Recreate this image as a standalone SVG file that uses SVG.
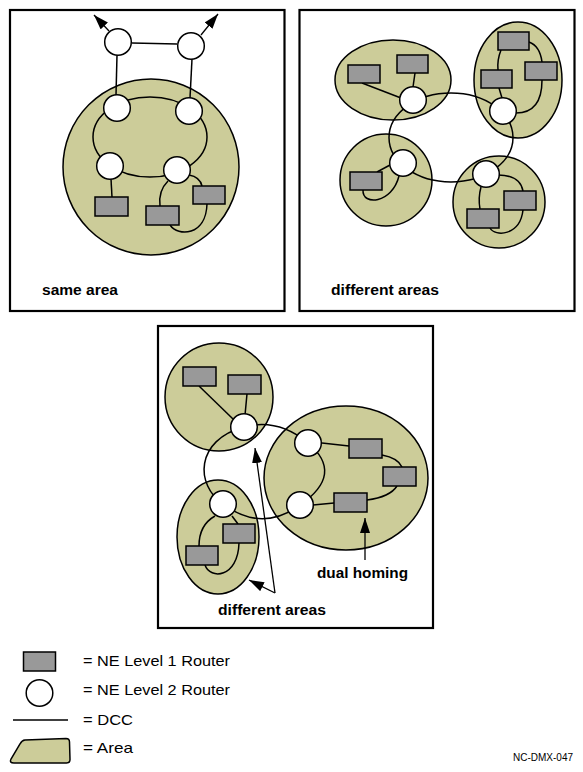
<svg xmlns="http://www.w3.org/2000/svg" width="583" height="772" viewBox="0 0 583 772">
<style>
.frame{fill:none;stroke:#000;stroke-width:2.2}
.area{fill:#CCCC99;stroke:#000;stroke-width:1.5}
.r2{fill:#fff;stroke:#000;stroke-width:1.5}
.r1{fill:#999;stroke:#000;stroke-width:1.5}
.dcc{fill:none;stroke:#000;stroke-width:1.5}
.arr{fill:none;stroke:#000;stroke-width:1.3;marker-end:url(#ah)}
.lbl{font-family:"Liberation Sans",Arial,sans-serif;font-weight:bold;font-size:14px;fill:#000}
.leg{font-family:"Liberation Sans",Arial,sans-serif;font-size:15px;fill:#000}
.code{font-family:"Liberation Sans",Arial,sans-serif;font-size:11px;fill:#000}
</style>
<defs>
<marker id="ah" viewBox="0 0 15 10" refX="15" refY="5" markerWidth="15" markerHeight="10" markerUnits="userSpaceOnUse" orient="auto">
<path d="M0,0 L15,5 L0,10 z" fill="#000"/>
</marker>
</defs>
<rect fill="#fff" width="583" height="772"/>

<!-- Frames -->
<g id="frames">
<rect class="frame" x="10" y="10" width="274.5" height="301"/>
<rect class="frame" x="299.5" y="10" width="275" height="301"/>
<rect class="frame" x="158" y="326" width="275" height="302"/>
</g>

<!-- Areas -->
<g id="areas">
<circle id="area-p1" class="area" cx="151" cy="167" r="88"/>
<ellipse id="area-p2-tl" class="area" cx="393" cy="80" rx="58" ry="40"/>
<ellipse id="area-p2-tr" class="area" cx="518" cy="80" rx="44" ry="58"/>
<circle id="area-p2-bl" class="area" cx="386" cy="180" r="46"/>
<circle id="area-p2-br" class="area" cx="499" cy="202" r="46"/>
<circle id="area-p3-tl" class="area" cx="219" cy="397" r="54"/>
<ellipse id="area-p3-r" class="area" cx="346" cy="478" rx="82" ry="72"/>
<ellipse id="area-p3-bl" class="area" cx="218" cy="537" rx="41" ry="57"/>
</g>

<!-- Connectors -->
<g id="connectors">
<!-- panel 1 -->
<path class="dcc" d="M132,43 L177,44"/>
<path class="dcc" d="M117,55 L116,95"/>
<path class="dcc" d="M192,59 L190,98"/>
<ellipse class="dcc" cx="150" cy="137" rx="57" ry="40"/>
<path class="dcc" d="M111,179 L112,197"/>
<path class="dcc" d="M168,181 C161,188 159,198 160,206"/>
<path class="dcc" d="M170,225 C178,237 206,236 207,204"/>
<path class="dcc" d="M189,175 Q200,177 202,186"/>
<path class="arr" d="M109,31 L94,15"/>
<path class="arr" d="M201,35 L218,14"/>
<!-- panel 2 -->
<ellipse class="dcc" cx="451" cy="137.5" rx="62" ry="44.5"/>
<path class="dcc" d="M362,83 L401,98"/>
<path class="dcc" d="M415,73 L413,87"/>
<path class="dcc" d="M501,50 Q497,60 498,70"/>
<path class="dcc" d="M499,88 L502,98"/>
<path class="dcc" d="M529,42 Q540,46 542,62"/>
<path class="dcc" d="M542,80 C542,100 535,113 516,113"/>
<path class="dcc" d="M390,165 L377,172"/>
<path class="dcc" d="M363,190 C362,206 392,204 399,176"/>
<path class="dcc" d="M481,187 Q478,198 480,209"/>
<path class="dcc" d="M490,228 C495,237 520,236 523,210"/>
<path class="dcc" d="M498,175 Q520,175 523,191"/>
<!-- panel 3 -->
<path class="dcc" d="M244,427 Q278,418 308,443"/>
<path class="dcc" d="M308,443 Q345,474 300,505"/>
<path class="dcc" d="M300,505 Q262,533 223,504"/>
<path class="dcc" d="M223,504 C195,485 195,440 244,427"/>
<path class="dcc" d="M199,386 L233,419"/>
<path class="dcc" d="M247,394 L245,415"/>
<path class="dcc" d="M322,443 L349,446"/>
<path class="dcc" d="M382,455 Q398,458 402,467"/>
<path class="dcc" d="M397,486 Q390,497 367,500"/>
<path class="dcc" d="M313,505 L334,503"/>
<path class="dcc" d="M232,516 L238,524"/>
<path class="dcc" d="M215,516 Q199,525 199,546"/>
<path class="dcc" d="M205,565 C210,580 238,578 239,543"/>
<path class="arr" d="M275,593 L255,448"/>
<path class="arr" d="M275,593 L249,580"/>
<path class="arr" d="M365,560 L365,518"/>
</g>

<!-- Level 2 routers -->
<g id="level2">
<circle id="p1-c1" class="r2" cx="118" cy="42" r="13.3"/>
<circle id="p1-c2" class="r2" cx="191" cy="46" r="13.3"/>
<circle id="p1-c3" class="r2" cx="117" cy="108" r="13.3"/>
<circle id="p1-c4" class="r2" cx="189" cy="111" r="13.3"/>
<circle id="p1-c5" class="r2" cx="110" cy="166" r="13.3"/>
<circle id="p1-c6" class="r2" cx="177" cy="170" r="13.3"/>
<circle id="p2-c1" class="r2" cx="413" cy="100" r="13.3"/>
<circle id="p2-c2" class="r2" cx="503" cy="111" r="13.3"/>
<circle id="p2-c3" class="r2" cx="403" cy="163" r="13.3"/>
<circle id="p2-c4" class="r2" cx="486" cy="174" r="13.3"/>
<circle id="p3-c1" class="r2" cx="244" cy="427" r="13.3"/>
<circle id="p3-c2" class="r2" cx="308" cy="443" r="13.3"/>
<circle id="p3-c3" class="r2" cx="300" cy="505" r="13.3"/>
<circle id="p3-c4" class="r2" cx="223" cy="504" r="13.3"/>
</g>

<!-- Level 1 routers -->
<g id="level1">
<rect id="p1-r1" class="r1" x="95" y="197" width="33" height="19"/>
<rect id="p1-r2" class="r1" x="146" y="206" width="33" height="19"/>
<rect id="p1-r3" class="r1" x="193" y="186" width="32" height="18"/>
<rect id="p2-r1" class="r1" x="348" y="65" width="32" height="18"/>
<rect id="p2-r2" class="r1" x="397" y="55" width="31" height="18"/>
<rect id="p2-r3" class="r1" x="498" y="32" width="31" height="18"/>
<rect id="p2-r4" class="r1" x="481" y="70" width="31" height="18"/>
<rect id="p2-r5" class="r1" x="525" y="62" width="32" height="18"/>
<rect id="p2-r6" class="r1" x="350" y="172" width="32" height="18"/>
<rect id="p2-r7" class="r1" x="504" y="191" width="32" height="19"/>
<rect id="p2-r8" class="r1" x="467" y="209" width="32" height="19"/>
<rect id="p3-r1" class="r1" x="183" y="367" width="33" height="19"/>
<rect id="p3-r2" class="r1" x="228" y="375" width="33" height="19"/>
<rect id="p3-r3" class="r1" x="349" y="439" width="33" height="19"/>
<rect id="p3-r4" class="r1" x="383" y="467" width="33" height="19"/>
<rect id="p3-r5" class="r1" x="334" y="493" width="33" height="19"/>
<rect id="p3-r6" class="r1" x="223" y="524" width="32" height="19"/>
<rect id="p3-r7" class="r1" x="186" y="546" width="32" height="19"/>
</g>

<!-- Labels -->
<g id="labels">
<text class="lbl" x="42" y="295" textLength="76" lengthAdjust="spacingAndGlyphs">same area</text>
<text class="lbl" x="331" y="295" textLength="108" lengthAdjust="spacingAndGlyphs">different areas</text>
<text class="lbl" x="317" y="578" textLength="91" lengthAdjust="spacingAndGlyphs">dual homing</text>
<text class="lbl" x="218" y="615" textLength="108" lengthAdjust="spacingAndGlyphs">different areas</text>
</g>

<!-- Legend -->
<g id="legend">
<rect class="r1" x="23.5" y="652" width="32" height="19"/>
<circle class="r2" cx="39.5" cy="693" r="13.3"/>
<line class="dcc" x1="13" y1="720" x2="68" y2="720"/>
<path class="area" d="M25,740 L66,738.5 Q69.5,738.5 69.5,742 L70,759.5 Q70,763 66.5,763 L14,763 Q9,763 11,759 L20,744 Q22,740.2 25,740 Z"/>
<text class="leg" x="83" y="666" textLength="147" lengthAdjust="spacingAndGlyphs">= NE Level 1  Router</text>
<text class="leg" x="83" y="695" textLength="147" lengthAdjust="spacingAndGlyphs">= NE Level 2 Router</text>
<text class="leg" x="83" y="725" textLength="50" lengthAdjust="spacingAndGlyphs">= DCC</text>
<text class="leg" x="83" y="753" textLength="50" lengthAdjust="spacingAndGlyphs">= Area</text>
<text class="code" x="513" y="761" textLength="60" lengthAdjust="spacingAndGlyphs">NC-DMX-047</text>
</g>
</svg>
